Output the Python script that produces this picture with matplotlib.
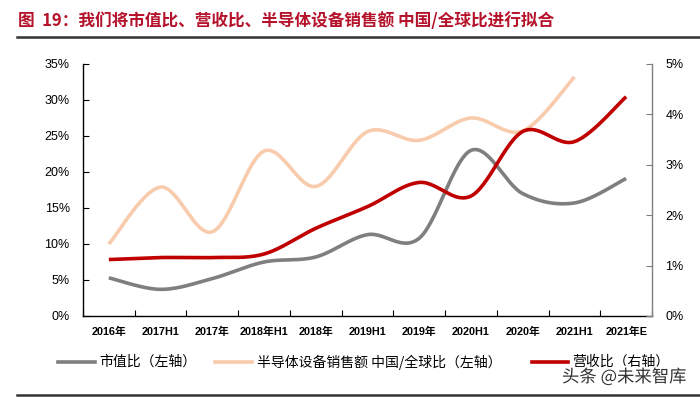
import numpy as np
import matplotlib
matplotlib.use('Agg')
import matplotlib.pyplot as plt
from matplotlib.lines import Line2D
import matplotlib.patheffects as pe

plt.rcParams['font.family'] = ['Liberation Sans', 'Noto Sans CJK SC', 'DejaVu Sans']

# 数据
cats = ['2016年', '2017H1', '2017年', '2018年H1', '2018年', '2019H1', '2019年',
        '2020H1', '2020年', '2021H1', '2021年E']
mv_ratio = [5.3, 3.7, 5.2, 7.5, 8.2, 11.3, 10.8, 23.0, 17.0, 15.7, 19.1]        # 市值比 左轴 %
equip_ratio = [10.0, 17.9, 11.7, 22.9, 18.0, 25.6, 24.4, 27.5, 25.7, 33.2, np.nan]  # 半导体设备 左轴 %
rev_ratio = [1.12, 1.16, 1.16, 1.23, 1.74, 2.17, 2.65, 2.38, 3.66, 3.46, 4.35]  # 营收比 右轴 %

left_ticks = [0, 5, 10, 15, 20, 25, 30, 35]
right_ticks = [0, 1, 2, 3, 4, 5]

legend_names = ['市值比（左轴）', '半导体设备销售额 中国/全球比（左轴）', '营收比（右轴）']
c_gray = '#7F7F7F'
c_peach = '#F8CBAD'
c_red = '#C00000'


def smooth(xs, ys, n=30):
    # Excel风格平滑线 (Catmull-Rom)
    xs = np.asarray(xs, float)
    ys = np.asarray(ys, float)
    ok = ~np.isnan(ys)
    xs, ys = xs[ok], ys[ok]
    px = np.concatenate([[xs[0]], xs, [xs[-1]]])
    py = np.concatenate([[ys[0]], ys, [ys[-1]]])
    outx, outy = [], []
    t = np.linspace(0, 1, n)
    for i in range(1, len(px) - 2):
        for p, out in ((px, outx), (py, outy)):
            p0, p1, p2, p3 = p[i - 1], p[i], p[i + 1], p[i + 2]
            c1 = p1 + (p2 - p0) / 6
            c2 = p2 - (p3 - p1) / 6
            out.extend((1 - t) ** 3 * p1 + 3 * (1 - t) ** 2 * t * c1 + 3 * (1 - t) * t ** 2 * c2 + t ** 3 * p2)
    return np.array(outx), np.array(outy)


fig = plt.figure(figsize=(7, 3.97), dpi=100)
W, H = 700, 397
ax = fig.add_axes([83 / W, (H - 316) / H, 569 / W, 252 / H])
ax2 = ax.twinx()

x = np.arange(len(cats))
lw = 2.6
sx, sy = smooth(x, equip_ratio)
ax.plot(sx, sy, color=c_peach, lw=lw, solid_capstyle='butt', zorder=2)
sx, sy = smooth(x, mv_ratio)
ax.plot(sx, sy, color=c_gray, lw=lw, solid_capstyle='butt', zorder=3)
sx, sy = smooth(x, rev_ratio)
ax2.plot(sx, sy, color=c_red, lw=lw, solid_capstyle='butt', zorder=4)

ax.set_xlim(-0.5, len(cats) - 0.5)
ax.set_ylim(0, 35)
ax2.set_ylim(0, 5)
ax.set_yticks(left_ticks)
ax.set_yticklabels([f'{v}%' for v in left_ticks], fontsize=9)
ax2.set_yticks(right_ticks)
ax2.set_yticklabels([f'{v}%' for v in right_ticks], fontsize=9)

ax.set_xticks(np.arange(len(cats) + 1) - 0.5)
ax.set_xticklabels([])
ax.set_xticks(x, minor=True)
ax.set_xticklabels(cats, minor=True, fontsize=7.8, fontweight='bold')
ax.tick_params(axis='x', which='major', direction='in', length=4, width=0.8)
ax.tick_params(axis='x', which='minor', length=0, pad=8)
ax.tick_params(axis='y', direction='in', length=4, width=0.8, pad=9.5)
ax2.tick_params(axis='y', direction='in', length=4, width=0.8, pad=9.5, color=c_gray)

for a in (ax, ax2):
    a.spines['top'].set_visible(False)
ax2.spines['left'].set_visible(False)
ax2.spines['bottom'].set_visible(False)
ax2.spines['right'].set_color(c_gray)
ax.spines['right'].set_visible(False)
for s in ('left', 'bottom'):
    ax.spines[s].set_linewidth(1.0)
ax2.spines['right'].set_linewidth(1.0)

# 标题
fig.text(18 / W, 1 - 21 / H, '图  19：我们将市值比、营收比、半导体设备销售额 中国/全球比进行拟合',
         fontsize=12, fontweight='bold', color='#B5122B', va='center', ha='left',
         family=['Noto Sans CJK SC', 'DejaVu Sans'])
fig.add_artist(Line2D([17 / W, 1], [1 - 37 / H, 1 - 37 / H], color='#333333', lw=1.8))
fig.add_artist(Line2D([17 / W, 1], [1 - 395 / H, 1 - 395 / H], color='#333333', lw=1.8))

# 图例
ly = 1 - 362 / H
keys = [(58, 95, 99, c_gray), (215, 252, 257, c_peach), (532, 568, 572, c_red)]
for (x0, x1, tx, col), name in zip(keys, legend_names):
    fig.add_artist(Line2D([x0 / W, x1 / W], [ly, ly], color=col, lw=2.6))
    fig.text(tx / W, ly, name, fontsize=10, va='center', ha='left',
             family=['Noto Sans CJK SC', 'DejaVu Sans'])

# 水印
fig.text(562 / W, 1 - 377 / H, '头条 @未来智库', fontsize=12.5, color='#333333',
         va='center', ha='left', family=['Noto Sans CJK SC', 'DejaVu Sans'],
         path_effects=[pe.withStroke(linewidth=2.5, foreground='white')])

fig.savefig('out.png', dpi=100)
